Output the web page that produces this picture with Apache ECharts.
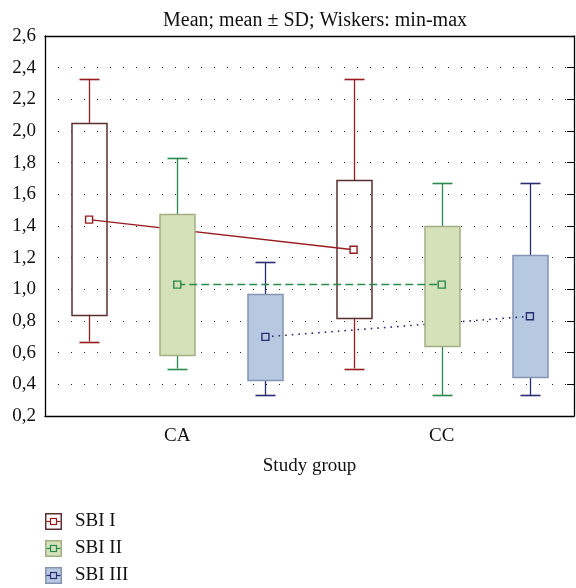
<!DOCTYPE html>
<html>
<head>
<meta charset="utf-8">
<script src="https://cdn.jsdelivr.net/npm/echarts@6/dist/echarts.min.js"></script>
<style>
  html, body { margin: 0; padding: 0; background: #fff; }
  #chart { width: 576px; height: 588px; }
</style>
</head>
<body>
<div id="chart"></div>
<script>
// categories and series
const categories = ['CA', 'CC'];
const seriesNames = ['SBI I', 'SBI II', 'SBI III'];

// SBI I: min, mean-SD, mean, mean+SD, max (per category)
const sbi1Min = [0.67, 0.50];
const sbi1Lo = [0.84, 0.82];
const sbi1Mean = [1.44, 1.25];
const sbi1Hi = [2.05, 1.69];
const sbi1Max = [2.33, 2.33];

// SBI II
const sbi2Min = [0.50, 0.33];
const sbi2Lo = [0.585, 0.64];
const sbi2Mean = [1.03, 1.03];
const sbi2Hi = [1.475, 1.40];
const sbi2Max = [1.83, 1.67];

// SBI III
const sbi3Min = [0.33, 0.33];
const sbi3Lo = [0.425, 0.445];
const sbi3Mean = [0.70, 0.83];
const sbi3Hi = [0.97, 1.215];
const sbi3Max = [1.17, 1.67];

// y axis
const yMin = 0.2, yMax = 2.6, yStep = 0.2;

const FONT = 'Liberation Serif';
const offsets = [-1 / 3, 0, 1 / 3];   // group offset inside a category (in category units)
const boxW = 35, capW = 20;

const styles = [
  { line: '#981c1f', border: '#5a2f30', fill: 'rgba(255,255,255,0)', iconFill: '#fff', markFill: '#fff', lineType: 'solid', lineW: 1.3, zBox: 2, zLine: 3 },
  { line: '#2a8a4c', border: '#a4ae86', fill: '#d5e1b9', iconFill: '#d5e1b9', markFill: '#d5e1b9', lineType: [8, 4], lineW: 1.5, zBox: 4, zLine: 5 },
  { line: '#2b2d72', border: '#8393b1', fill: '#b7c9e1', iconFill: '#b7c9e1', markFill: '#b7c9e1', lineType: [1.6, 5], lineW: 1.6, zBox: 1, zLine: 3 }
];

const stats = [
  [sbi1Min, sbi1Lo, sbi1Mean, sbi1Hi, sbi1Max],
  [sbi2Min, sbi2Lo, sbi2Mean, sbi2Hi, sbi2Max],
  [sbi3Min, sbi3Lo, sbi3Mean, sbi3Hi, sbi3Max]
];

function crisp(v) { return Math.round(v) + 0.5; }

function legendIcon(s) {
  const svg = "<svg xmlns='http://www.w3.org/2000/svg' width='17' height='17'>" +
    "<rect x='0.75' y='0.75' width='15.5' height='15.5' fill='" + s.iconFill + "' stroke='" + s.border + "' stroke-width='1.5'/>" +
    "<line x1='1.5' y1='8.5' x2='15.5' y2='8.5' stroke='" + s.line + "' stroke-width='1.2'/>" +
    "<rect x='5.5' y='5.5' width='6' height='6' fill='" + s.markFill + "' stroke='" + s.line + "' stroke-width='1.2'/></svg>";
  return 'image://data:image/svg+xml;utf8,' + encodeURIComponent(svg);
}

function makeRender(s) {
  return function (params, api) {
    const x = api.value(0);
    const pMin = api.coord([x, api.value(1)]);
    const pLo = api.coord([x, api.value(2)]);
    const pHi = api.coord([x, api.value(3)]);
    const pMax = api.coord([x, api.value(4)]);
    const cx = crisp(pMin[0]);
    const ls = { stroke: s.line, lineWidth: 1.3 };
    return {
      type: 'group',
      children: [
        { type: 'line', shape: { x1: cx, y1: pMin[1], x2: cx, y2: pLo[1] }, style: ls },
        { type: 'line', shape: { x1: cx, y1: pHi[1], x2: cx, y2: pMax[1] }, style: ls },
        { type: 'line', shape: { x1: cx - capW / 2, y1: crisp(pMin[1]), x2: cx + capW / 2, y2: crisp(pMin[1]) }, style: { stroke: s.line, lineWidth: 1.6 } },
        { type: 'line', shape: { x1: cx - capW / 2, y1: crisp(pMax[1]), x2: cx + capW / 2, y2: crisp(pMax[1]) }, style: { stroke: s.line, lineWidth: 1.6 } },
        { type: 'rect', shape: { x: cx - boxW / 2, y: crisp(pHi[1]), width: boxW, height: Math.round(pLo[1] - pHi[1]) },
          style: { fill: s.fill, stroke: s.border, lineWidth: 1.5 } }
      ]
    };
  };
}

const series = [];
stats.forEach(function (st, i) {
  const s = styles[i];
  const boxData = categories.map(function (c, k) {
    return [k + 0.5 + offsets[i], st[0][k], st[1][k], st[3][k], st[4][k]];
  });
  const meanData = categories.map(function (c, k) {
    return [k + 0.5 + offsets[i], st[2][k]];
  });
  series.push({
    name: seriesNames[i],
    type: 'custom',
    xAxisIndex: 2,
    z: s.zBox,
    renderItem: makeRender(s),
    encode: { x: 0, y: [1, 2, 3, 4] },
    data: boxData,
    silent: true
  });
  series.push({
    name: seriesNames[i],
    type: 'line',
    xAxisIndex: 2,
    z: s.zLine,
    data: meanData,
    symbol: 'rect',
    symbolSize: 7,
    itemStyle: { color: s.markFill, borderColor: s.line, borderWidth: 1.4 },
    lineStyle: { color: s.line, width: s.lineW, type: s.lineType },
    silent: true,
    animation: false
  });
});

const chart = echarts.init(document.getElementById('chart'));
chart.setOption({
  animation: false,
  textStyle: { fontFamily: FONT },
  title: {
    text: 'Mean; mean \u00b1 SD; Wiskers: min-max',
    left: 310,
    textAlign: 'center',
    top: 6,
    textStyle: { fontFamily: FONT, fontSize: 20, fontWeight: 'normal', color: '#111' }
  },
  legend: {
    orient: 'vertical',
    left: 45,
    top: 512,
    padding: 0,
    itemWidth: 17,
    itemHeight: 17,
    itemGap: 8,
    textStyle: { fontFamily: FONT, fontSize: 19, color: '#111', padding: [0, 0, 0, 8] },
    data: seriesNames.map(function (n, i) { return { name: n, icon: legendIcon(styles[i]) }; })
  },
  grid: { left: 45, right: 2, top: 36, bottom: 172 },
  xAxis: [
    {
      type: 'category', data: categories, position: 'bottom',
      axisLine: { lineStyle: { color: '#000', width: 1.3 } },
      axisTick: { inside: true, alignWithLabel: true, length: 4, lineStyle: { color: '#000' } },
      axisLabel: { fontFamily: FONT, fontSize: 19, color: '#111', margin: 11 },
      name: 'Study group', nameLocation: 'middle', nameGap: 41,
      nameTextStyle: { fontFamily: FONT, fontSize: 19, color: '#111' }
    },
    {
      type: 'category', data: categories, position: 'top',
      axisLine: { lineStyle: { color: '#000', width: 1.3 } },
      axisTick: { inside: true, alignWithLabel: true, length: 4, lineStyle: { color: '#000' } },
      axisLabel: { show: false }
    },
    { type: 'value', min: 0, max: categories.length, show: false }
  ],
  yAxis: [
    {
      type: 'value', min: yMin, max: yMax, interval: yStep,
      axisLine: { show: true, lineStyle: { color: '#000', width: 1.3 } },
      axisTick: { show: false },
      axisLabel: {
        fontFamily: FONT, fontSize: 19, color: '#111', margin: 9,
        formatter: function (v) { return v.toFixed(1).replace('.', ','); }
      },
      splitLine: { show: true, lineStyle: { color: '#222', width: 1, type: [1, 12] } }
    },
    {
      type: 'value', min: yMin, max: yMax, interval: yStep, position: 'right',
      axisLine: { show: true, lineStyle: { color: '#000', width: 1.3 } },
      axisTick: { show: true, inside: true, length: 7, lineStyle: { color: '#000' } },
      axisLabel: { show: false },
      splitLine: { show: false }
    }
  ],
  series: series
});
</script>
</body>
</html>
